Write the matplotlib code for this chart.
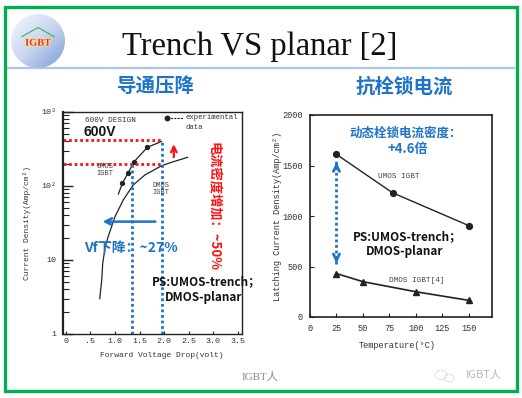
import numpy as np
import matplotlib.pyplot as plt
from matplotlib.patches import Rectangle, Circle
from matplotlib.colors import LinearSegmentedColormap
import matplotlib.patheffects as pe

# left chart: forward voltage drop vs current density (600V design)
umos_vf = [1.07, 1.15, 1.27, 1.39, 1.66, 1.95]
umos_j = [78, 109, 151, 213, 333, 400]
umos_pts_vf = [1.15, 1.27, 1.39, 1.66]
umos_pts_j = [109, 151, 213, 333]
dmos_vf = [0.69, 0.73, 0.75, 0.80, 0.86, 1.00, 1.17, 1.37, 1.61, 1.95, 2.19, 2.48]
dmos_j = [3.0, 5.4, 9.0, 15, 20.6, 38.5, 65, 103, 141, 188, 213, 244]
ref_j = [200, 420]        # red dotted current levels
ref_vf = [1.34, 1.95]     # blue dotted voltage levels
vf_ticks = [0, 0.5, 1.0, 1.5, 2.0, 2.5, 3.0, 3.5]
vf_labels = ["0", ".5", "1.0", "1.5", "2.0", "2.5", "3.0", "3.5"]
j_ticks = [1, 10, 100, 1000]
j_labels = ["1", "10", "10²", "10³"]

# right chart: latching current density vs temperature
umos_t = [25, 78, 150]
umos_latch = [1610, 1230, 905]
dmos_t = [25, 50, 100, 150]
dmos_latch = [430, 350, 250, 165]
t_ticks = [0, 25, 50, 75, 100, 125, 150]
latch_ticks = [0, 500, 1000, 1500, 2000]

W, H = 522, 398
BLUE = "#1F73C9"
RED = "#FF1010"
INK = "#222222"
MONO = "Liberation Mono"
CJK = ["Noto Sans CJK SC", "DejaVu Sans"]


def fx(x):
    return x / W


def fy(y):
    return 1 - y / H


fig = plt.figure(figsize=(W / 100, H / 100), dpi=100)
fig.patch.set_facecolor("white")


def ftxt(x, y, s, **kw):
    return fig.text(fx(x), fy(y), s, **kw)


# frame and header
fig.patches.append(Rectangle((fx(5), fy(391)), fx(512), 384 / H, transform=fig.transFigure,
                             fill=False, edgecolor="#00B050", lw=2.4))
fig.add_artist(plt.Line2D([fx(8), fx(514)], [fy(68), fy(68)], color="#A8C6EC", lw=1.6))

ftxt(260, 55, "Trench VS planar [2]", family="Liberation Serif", size=23.5, ha="center",
     va="baseline", color="#111111")
ftxt(156, 87, "导通压降", family=CJK, weight="bold", size=14, ha="center", va="center", color=BLUE)
ftxt(404, 87, "抗栓锁电流", family=CJK, weight="bold", size=14, ha="center", va="center", color=BLUE)

# logo
lax = fig.add_axes([fx(11), fy(68), 54 / W, 54 / H])
lax.set_xlim(0, 1)
lax.set_ylim(0, 1)
lax.axis("off")
gx, gy = np.meshgrid(np.linspace(0, 1, 60), np.linspace(0, 1, 60))
grad = (gx + (1 - gy)) / 2
cmap = LinearSegmentedColormap.from_list("logo", ["#F6F8FD", "#C9D7F0", "#7C9DD6"])
im = lax.imshow(grad, extent=(0, 1, 0, 1), origin="lower", cmap=cmap)
im.set_clip_path(Circle((0.5, 0.5), 0.5, transform=lax.transData))
lax.plot([0.2, 0.5, 0.8], [0.58, 0.75, 0.58], color="#3DAE5A", lw=0.8)
lax.text(0.5, 0.46, "IGBT", family="Liberation Serif", weight="bold", size=7.5, color="#E8302A",
         ha="center", va="center",
         path_effects=[pe.withStroke(linewidth=1.2, foreground="#F5E6A0")])

# ---------------- left chart ----------------
ax1 = fig.add_axes([fx(63), fy(334), 179 / W, 222 / H])
ax1.set_yscale("log")
ax1.set_xlim(-0.06, 3.59)
ax1.set_ylim(1, 1000)
ax1.plot(umos_vf, umos_j, color=INK, lw=0.9)
ax1.plot(umos_pts_vf, umos_pts_j, "o", color=INK, ms=2.8)
ax1.plot(dmos_vf, dmos_j, color=INK, lw=0.9)

ax1.hlines(ref_j, -0.06, ref_vf[1], colors=RED, linestyles=(0, (1, 1)), lw=2)
ax1.vlines(ref_vf, 1, ref_j, colors=BLUE, linestyles=(0, (1, 1)), lw=2)
ax1.annotate("", xy=(0.69, 33), xytext=(1.88, 33),
             arrowprops=dict(arrowstyle="->", color=BLUE, lw=1.8, mutation_scale=12))
ax1.annotate("", xy=(2.2, 400), xytext=(2.2, 225),
             arrowprops=dict(arrowstyle="->", color=RED, lw=1.6, mutation_scale=10))

ax1.set_xticks(vf_ticks)
ax1.set_xticklabels(vf_labels)
ax1.set_yticks(j_ticks)
ax1.set_yticklabels(j_labels)
ax1.tick_params(axis="y", which="major", direction="in", length=7, width=1, colors=INK, pad=5)
ax1.tick_params(axis="y", which="minor", direction="in", length=4, width=0.8, colors=INK)
ax1.tick_params(axis="x", direction="in", length=2, colors=INK, pad=3)
for lab in ax1.get_xticklabels() + ax1.get_yticklabels():
    lab.set_family(MONO)
    lab.set_size(6)
    lab.set_color("#333333")
for side, sp in ax1.spines.items():
    sp.set_color(INK)
    sp.set_linewidth(1.6 if side == "left" else 1.0)

ax1.set_xlabel("Forward Voltage Drop(volt)", family=MONO, size=5.8, color="#333333")
ax1.xaxis.set_label_coords(0.55, -0.08)
ax1.set_ylabel("Current Density(Amp/cm²)", family=MONO, size=5.8, color="#333333")
ax1.yaxis.set_label_coords(-0.18, 0.5)

# legend of the scanned figure
ax1.plot([0.581], [0.973], "o", color=INK, ms=3.2, transform=ax1.transAxes, clip_on=False)
ax1.plot([0.581, 0.67], [0.973, 0.973], ls=(0, (2, 1)), color=INK, lw=0.8,
         transform=ax1.transAxes, clip_on=False)
ax1.text(0.682, 0.973, "experimental", transform=ax1.transAxes, family=MONO, size=5.3,
         va="center", color="#333333")
ax1.text(0.682, 0.928, "data", transform=ax1.transAxes, family=MONO, size=5.3,
         va="center", color="#333333")

ftxt(85, 120, "600V DESIGN", family=MONO, size=5.5, va="center", color="#333333")
ftxt(84, 132, "600V", family="Liberation Sans", weight="bold", size=10, va="center", color="#111111")
ftxt(105, 170, "UMOS\nIGBT", family=MONO, size=5, ha="center", va="center", color="#444444",
     linespacing=1.1)
ftxt(161, 189, "DMOS\nIGBT", family=MONO, size=5, ha="center", va="center", color="#444444",
     linespacing=1.1)
ftxt(214, 142, "电流密度增加：~50%", family=CJK, weight="bold", size=9.5, rotation=-90,
     ha="center", va="top", color=RED)
ftxt(84, 248, "Vf下降：~27%", family=CJK, weight="bold", size=10, va="center", color=BLUE)
ftxt(152, 282, "PS:UMOS-trench；", family=CJK, weight="bold", size=8.5, va="center", color="#111111")
ftxt(165, 298, "DMOS-planar", family=CJK, weight="bold", size=8.5, va="center", color="#111111")

# ---------------- right chart ----------------
ax2 = fig.add_axes([fx(310), fy(317), 182 / W, 202 / H])
ax2.set_xlim(0, 172)
ax2.set_ylim(0, 2000)
ax2.plot(umos_t, umos_latch, "-o", color=INK, lw=1, ms=4.2)
ax2.plot(dmos_t, dmos_latch, "-^", color=INK, lw=1.2, ms=4.5)

ax2.plot([25, 25], [520, 1545], ls=(0, (1, 1)), color=BLUE, lw=2)
ax2.annotate("", xy=(25, 1560), xytext=(25, 1450),
             arrowprops=dict(arrowstyle="->", color=BLUE, lw=2, mutation_scale=11))
ax2.annotate("", xy=(25, 505), xytext=(25, 615),
             arrowprops=dict(arrowstyle="->", color=BLUE, lw=2, mutation_scale=11))

ax2.set_xticks(t_ticks)
ax2.set_yticks(latch_ticks)
ax2.tick_params(direction="in", length=3, colors=INK, pad=5)
for lab in ax2.get_xticklabels() + ax2.get_yticklabels():
    lab.set_family(MONO)
    lab.set_size(6.2)
    lab.set_color("#333333")
for sp in ax2.spines.values():
    sp.set_color(INK)
    sp.set_linewidth(1.2)

ax2.set_xlabel("Temperature(°C)", family=MONO, size=6.2, color="#333333")
ax2.xaxis.set_label_coords(0.48, -0.12)
ax2.set_ylabel("Latching Current Density(Amp/cm²)", family=MONO, size=6.2, color="#333333")
ax2.yaxis.set_label_coords(-0.155, 0.5)

ftxt(399, 177, "UMOS IGBT", family=MONO, size=5.5, ha="center", va="center", color="#444444")
ftxt(417, 280, "DMOS IGBT[4]", family=MONO, size=5.5, ha="center", va="center", color="#444444")
ftxt(406, 133, "动态栓锁电流密度：", family=CJK, weight="bold", size=9, ha="center", va="center",
     color=BLUE)
ftxt(408, 149, "+4.6倍", family=CJK, weight="bold", size=9.5, ha="center", va="center", color=BLUE)
ftxt(353, 237, "PS:UMOS-trench；", family=CJK, weight="bold", size=8.5, va="center", color="#111111")
ftxt(366, 252, "DMOS-planar", family=CJK, weight="bold", size=8.5, va="center", color="#111111")

# footer
ftxt(260, 377, "IGBT人", family=["Liberation Serif", "Noto Sans CJK SC"], size=8,
     ha="center", va="center", color="#8A8A8A")
for cx, cy, r in [(441, 375, 6), (449, 378, 5)]:
    fig.patches.append(Circle((fx(cx), fy(cy)), r / W, transform=fig.transFigure, fill=False,
                              edgecolor="#C8C8C8", lw=0.7, ls=(0, (1, 1))))
ftxt(484, 375, "IGBT人", family=CJK, size=8, ha="center", va="center", color="#B8B8B8")

fig.savefig("out.png", dpi=100)
